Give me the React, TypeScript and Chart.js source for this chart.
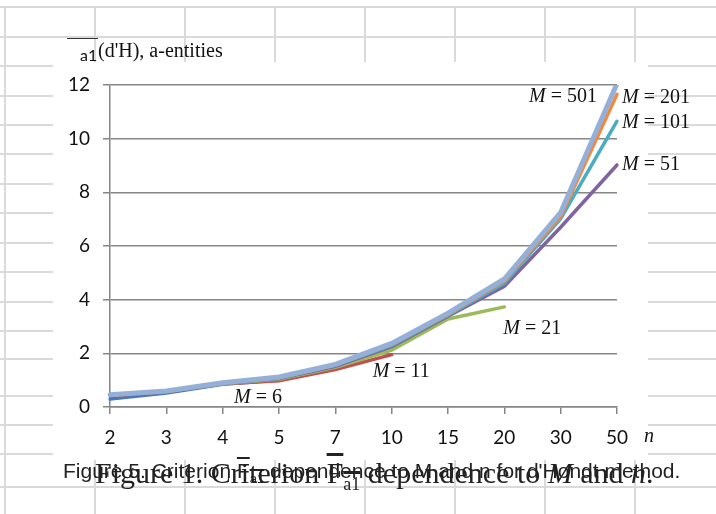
import React, { useEffect, useRef } from 'react'
import { Chart, registerables } from 'chart.js'

Chart.register(...registerables)

// number of parties n (category axis)
const N_VALUES = ['2', '3', '4', '5', '7', '10', '15', '20', '30', '50']
// number of seats M for each series
const M_NAMES = ['6', '11', '21', '51', '101', '201', '501']

const M6 = [0.3, 0.52, 0.85, 1.0]
const M11 = [0.42, 0.57, 0.87, 0.98, 1.4, 1.95]
const M21 = [0.44, 0.58, 0.87, 1.03, 1.48, 2.12, 3.28, 3.73]
const M51 = [0.45, 0.58, 0.88, 1.06, 1.52, 2.25, 3.38, 4.5, 6.7, 9.02]
const M101 = [0.45, 0.59, 0.89, 1.08, 1.55, 2.3, 3.42, 4.62, 7.02, 10.65]
const M201 = [0.45, 0.6, 0.9, 1.1, 1.57, 2.33, 3.45, 4.7, 7.1, 11.65]
const M501 = [0.46, 0.6, 0.9, 1.12, 1.59, 2.37, 3.5, 4.77, 7.25, 12.05]

const SERIES = [M6, M11, M21, M51, M101, M201, M501]
const COLORS = ['#4a78bb', '#c0504d', '#9bbb59', '#8064a2', '#4bacc6', '#f0883e', '#95b0d8']
const WIDTHS = [3.5, 3.5, 3.5, 3.5, 3.5, 3.5, 5]

// where each "M = ..." label sits relative to the last point of its line
const LABEL_POS = [
  { dx: -45, dy: 18, align: 'left' },
  { dx: -19, dy: 17, align: 'left' },
  { dx: -1, dy: 22, align: 'left' },
  { dx: 5, dy: 0, align: 'left' },
  { dx: 5, dy: 2, align: 'left' },
  { dx: 5, dy: 3, align: 'left' },
  { dx: -20, dy: 13, align: 'right' },
]

// background spreadsheet cells
const SHEET_COLS = [5, 95, 185, 275, 365, 455, 545, 635]
const SHEET_ROWS = [7, 37, 66, 96, 125, 154, 184, 213, 243, 272, 302, 331, 359, 396, 425, 454, 487]

const serif = '"Liberation Serif", "DejaVu Serif", serif'
const sans = '"Liberation Sans", Arial, sans-serif'

const seriesLabels = {
  id: 'seriesLabels',
  afterDraw(chart: any) {
    const ctx = chart.ctx
    ctx.save()
    ctx.fillStyle = '#111'
    ctx.textBaseline = 'middle'
    const italic = `italic 20px ${serif}`
    const plain = `20px ${serif}`
    SERIES.forEach((s, i) => {
      const pt = chart.getDatasetMeta(i).data[s.length - 1]
      if (!pt) return
      const pos = LABEL_POS[i]
      const rest = ' = ' + M_NAMES[i]
      ctx.font = italic
      const wM = ctx.measureText('M').width
      ctx.font = plain
      const wR = ctx.measureText(rest).width
      let x = pt.x + pos.dx
      if (pos.align === 'right') x -= wM + wR
      const y = pt.y + pos.dy
      ctx.textAlign = 'left'
      ctx.font = italic
      ctx.fillText('M', x, y)
      ctx.font = plain
      ctx.fillText(rest, x + wM, y)
    })
    // axis name n
    const xs = chart.scales.x
    ctx.font = italic
    ctx.fillText('n', xs.right + 27, 437)
    ctx.restore()
  },
}

function FigureChart() {
  const canvasRef = useRef<HTMLCanvasElement>(null)
  const chartRef = useRef<Chart | null>(null)

  useEffect(() => {
    if (!canvasRef.current) return
    const ctx = canvasRef.current.getContext('2d')
    if (!ctx) return

    chartRef.current = new Chart(ctx, {
      type: 'line',
      data: {
        labels: N_VALUES,
        datasets: SERIES.map((s, i) => ({
          label: 'M = ' + M_NAMES[i],
          data: s,
          borderColor: COLORS[i],
          backgroundColor: COLORS[i],
          borderWidth: WIDTHS[i],
          pointRadius: 0,
          tension: 0,
          fill: false,
          borderCapStyle: 'round' as const,
          order: SERIES.length - i,
        })),
      },
      options: {
        animation: false,
        responsive: true,
        maintainAspectRatio: false,
        layout: { padding: { top: 85, right: 99, left: 0, bottom: 0 } },
        plugins: {
          legend: { display: false },
          tooltip: { enabled: false },
        },
        scales: {
          x: {
            offset: false,
            border: { display: true, color: '#868686', width: 1.5 },
            grid: { drawOnChartArea: false, drawTicks: true, tickLength: 7, color: '#868686', lineWidth: 1.5 },
            ticks: { color: '#111', font: { family: 'Lato', size: 19 }, padding: 12, maxRotation: 0, autoSkip: false },
            afterFit: (scale: any) => { scale.height = 107 },
          },
          y: {
            min: 0,
            max: 12,
            border: { display: true, color: '#868686', width: 1.5 },
            grid: { color: '#868686', lineWidth: 1.5, drawTicks: true, tickLength: 7 },
            ticks: { stepSize: 2, color: '#111', font: { family: 'Lato', size: 19 }, padding: 13 },
            afterFit: (scale: any) => { scale.width = 110 },
          },
        },
      },
      plugins: [seriesLabels],
    })

    return () => {
      if (chartRef.current) {
        chartRef.current.destroy()
        chartRef.current = null
      }
    }
  }, [])

  return (
    <div style={{ position: 'absolute', left: 0, top: 0, width: 716, height: 514 }}>
      <canvas ref={canvasRef} />
    </div>
  )
}

export default function App() {
  return (
    <div style={{ position: 'absolute', left: 0, top: 0, width: 716, height: 514, overflow: 'hidden', background: '#fff' }}>
      {SHEET_COLS.map(x => (
        <div key={'c' + x} style={{ position: 'absolute', left: x - 1, top: 6, width: 2, height: 514, background: '#dadada' }} />
      ))}
      {SHEET_ROWS.map(y => (
        <div key={'r' + y} style={{ position: 'absolute', left: 0, top: y - 1, width: 716, height: 2, background: '#dadada' }} />
      ))}
      <div style={{ position: 'absolute', left: 53, top: 62, width: 595, height: 398, background: '#fff' }} />

      <FigureChart />

      {/* y axis title */}
      <div style={{ position: 'absolute', left: 67, top: 38, width: 31, borderTop: '1.5px solid #333' }} />
      <div style={{ position: 'absolute', left: 80, top: 47, fontFamily: 'Lato', fontSize: 16, lineHeight: '16px', color: '#111' }}>a1</div>
      <div style={{ position: 'absolute', left: 98, top: 40, fontFamily: serif, fontSize: 20, lineHeight: '20px', color: '#111', whiteSpace: 'nowrap' }}>
        (d'H), a-entities
      </div>

      {/* captions */}
      <div style={{ position: 'absolute', left: 63, top: 460, fontFamily: sans, fontSize: 21, lineHeight: '21px', color: '#222', whiteSpace: 'nowrap' }}>
        Figure 5. Criterion <span style={{ textDecoration: 'overline' }}>F<sub style={{ fontSize: 13 }}>a1</sub></span> dependence to M and n for d'Hondt method.
      </div>
      <div style={{ position: 'absolute', left: 95, top: 458, fontFamily: serif, fontSize: 30, lineHeight: '30px', color: '#222', whiteSpace: 'nowrap' }}>
        Figure 1. Criterion <span style={{ textDecoration: 'overline' }}>F<sub style={{ fontSize: 18 }}>a1</sub></span> dependence to <i>M</i> and <i>n</i>.
      </div>
    </div>
  )
}
